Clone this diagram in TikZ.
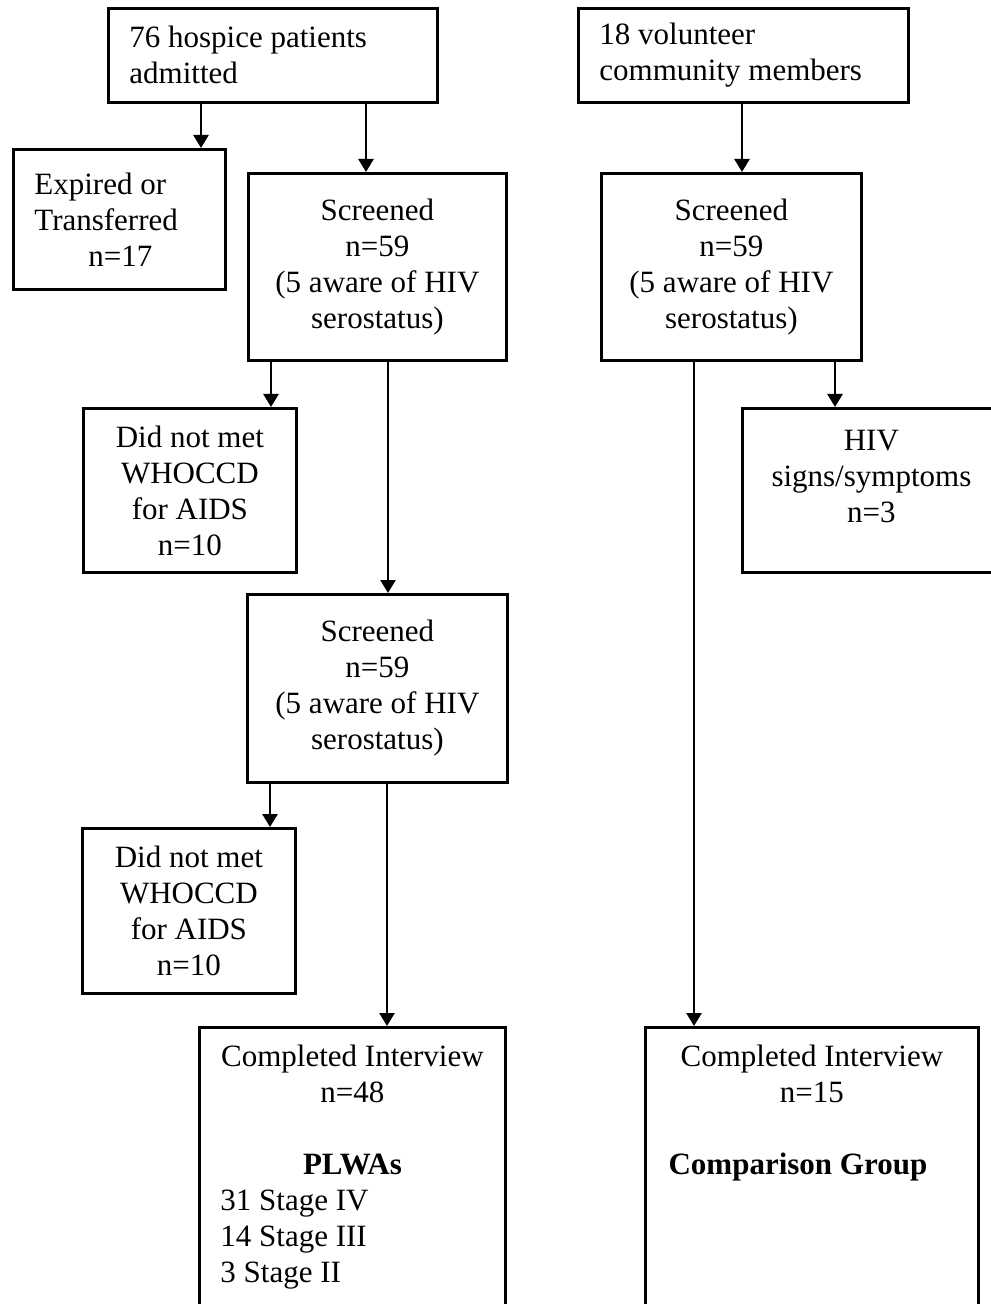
\documentclass[tikz,border=0pt]{standalone}
\usepackage{fontspec}
\setmainfont{Liberation Serif}
\usetikzlibrary{arrows.meta}
\tikzset{
  box/.style={draw, line width=1.4pt, align=center, anchor=north west, inner sep=0pt,
    font=\fontsize{15.5}{18}\selectfont},
  leftbox/.style={box, align=flush left, inner xsep=10.5pt},
  arr/.style={-{Triangle[width=7.5pt,length=6.5pt]}, line width=1.3pt}
}
\begin{document}
\begin{tikzpicture}[x=0.5pt, y=-0.5pt]
\useasboundingbox (0,0) rectangle (990,1304);
% sources
\node [leftbox, text width=143.5pt, minimum height=47pt] (adm) at (107,7) {76 hospice patients\\ admitted};
\node [leftbox, text width=144pt, minimum height=47pt] (vol) at (577,7) {18 volunteer\\ community members};
% first screening
\node [leftbox, text width=85pt, minimum height=70pt] (exp) at (12,148) {Expired or\\ Transferred\\ \hspace*{27pt}n=17};
\node [box, minimum width=129pt, minimum height=93.5pt] (scrL) at (247,172) {Screened\\ n=59\\ (5 aware of HIV\\ serostatus)};
\node [box, minimum width=130pt, minimum height=93.5pt] (scrR) at (600,172) {Screened\\ n=59\\ (5 aware of HIV\\ serostatus)};
\node [box, minimum width=106.5pt, minimum height=82pt] (dnm1) at (82,407) {Did not met\\ WHOCCD\\ for AIDS\\ n=10};
\node [box, minimum width=129pt, text height=57pt, text depth=25pt] (hiv) at (741,407) {HIV\\ signs/symptoms\\ n=3};
% second screening
\node [box, minimum width=130pt, minimum height=94pt] (scrM) at (246,593) {Screened\\ n=59\\ (5 aware of HIV\\ serostatus)};
\node [box, minimum width=106.5pt, minimum height=82.5pt] (dnm2) at (81,827) {Did not met\\ WHOCCD\\ for AIDS\\ n=10};
% interviews
\node [box, minimum width=153pt, text height=127.5pt, text depth=14.5pt] (cmpL) at (198,1026) {Completed Interview\\ n=48\\[18pt] \textbf{PLWAs}\\
  \makebox[132pt][l]{31 Stage IV}\\ \makebox[132pt][l]{14 Stage III}\\ \makebox[132pt][l]{3 Stage II}};
\node [box, minimum width=166.5pt, text height=73.5pt, text depth=68.5pt] (cmpR) at (644,1026) {Completed Interview\\ n=15\\[18pt] \textbf{Comparison Group}\hspace*{14pt}};
% arrow columns
\coordinate (cExp) at (201,0);
\coordinate (cScrL) at (366,0);
\coordinate (cScrR) at (742,0);
\coordinate (cDnm1) at (271,0);
\coordinate (cScrM) at (388,0);
\coordinate (cDnm2) at (270,0);
\coordinate (cCmpL) at (387,0);
\coordinate (cCmpR) at (694,0);
\coordinate (cHiv) at (835,0);
\draw [arr] (adm.south -| cExp) -- (exp.north -| cExp);
\draw [arr] (adm.south -| cScrL) -- (scrL.north -| cScrL);
\draw [arr] (vol.south -| cScrR) -- (scrR.north -| cScrR);
\draw [arr] (scrL.south -| cDnm1) -- (dnm1.north -| cDnm1);
\draw [arr] (scrL.south -| cScrM) -- (scrM.north -| cScrM);
\draw [arr] (scrM.south -| cDnm2) -- (dnm2.north -| cDnm2);
\draw [arr] (scrM.south -| cCmpL) -- (cmpL.north -| cCmpL);
\draw [arr] (scrR.south -| cCmpR) -- (cmpR.north -| cCmpR);
\draw [arr] (scrR.south -| cHiv) -- (hiv.north -| cHiv);
\end{tikzpicture}
\end{document}
